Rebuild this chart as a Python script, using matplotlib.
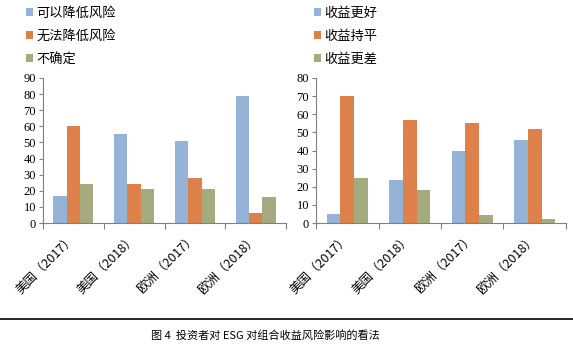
import matplotlib
matplotlib.use('Agg')
import matplotlib.pyplot as plt
import numpy as np

plt.rcParams['font.family'] = ['Liberation Serif', 'Noto Sans CJK SC', 'DejaVu Sans']

categories = ['美国（2017）', '美国（2018）', '欧洲（2017）', '欧洲（2018）']

risk_labels = ['可以降低风险', '无法降低风险', '不确定']
risk_lower = [17, 55, 51, 79]
risk_same = [60, 24, 28, 6]
risk_unsure = [24, 21, 21, 16]

ret_labels = ['收益更好', '收益持平', '收益更差']
ret_better = [5, 24, 40, 46]
ret_same = [70, 57, 55, 52]
ret_worse = [25, 18, 4.5, 2]

colors = ['#95B3D7', '#DD8049', '#A5AA7F']
caption = '图 4  投资者对 ESG 对组合收益风险影响的看法'

W, H = 573, 349
fig = plt.figure(figsize=(W / 100, H / 100), dpi=100)


def draw(ax, series, labels, ymax, legend_x):
    x = np.arange(len(categories))
    w = 0.22
    for i, (vals, lab) in enumerate(zip(series, labels)):
        ax.bar(x + (i - 1) * w, vals, w, color=colors[i], label=lab)
    ax.set_xlim(-0.5, len(categories) - 0.5)
    ax.set_ylim(0, ymax)
    ax.set_yticks(np.arange(0, ymax + 1, 10))
    ax.set_xticks(np.arange(len(categories) + 1) - 0.5)
    ax.set_xticklabels([])
    ax.tick_params(axis='x', length=4, color='#808080')
    ax.tick_params(axis='y', length=3, color='#808080', labelsize=9, pad=2)
    ax.set_xticks(x, minor=True)
    ax.set_xticklabels(categories, minor=True, rotation=45, ha='right', va='center',
                       rotation_mode='anchor', fontsize=9,
                       family=['Noto Sans CJK SC', 'DejaVu Sans'])
    ax.tick_params(axis='x', which='minor', length=0, pad=10)
    for s in ['top', 'right']:
        ax.spines[s].set_visible(False)
    for s in ['left', 'bottom']:
        ax.spines[s].set_color('#808080')
    ax.legend(loc='upper left', bbox_to_anchor=(legend_x / W, 1 - 7 / H),
              bbox_transform=fig.transFigure, frameon=False,
              handlelength=0.55, handleheight=0.55, handletextpad=0.25,
              labelspacing=0.75, borderaxespad=0, borderpad=0,
              prop={'family': ['Noto Sans CJK SC'], 'size': 9.5})


ax1 = fig.add_axes([43 / W, (H - 223) / H, (286 - 43) / W, (223 - 78) / H])
draw(ax1, [risk_lower, risk_same, risk_unsure], risk_labels, 90, 26)

ax2 = fig.add_axes([316 / W, (H - 223) / H, (566 - 316) / W, (223 - 78) / H])
draw(ax2, [ret_better, ret_same, ret_worse], ret_labels, 80, 314)

fig.add_artist(plt.Line2D([0, 1], [1 - 319 / H, 1 - 319 / H], color='black', lw=1.2))
fig.text(265 / W, 1 - 335 / H, caption, ha='center', va='center', fontsize=8,
         family=['Noto Sans CJK SC', 'DejaVu Sans'])

fig.savefig('out.png', dpi=100)
